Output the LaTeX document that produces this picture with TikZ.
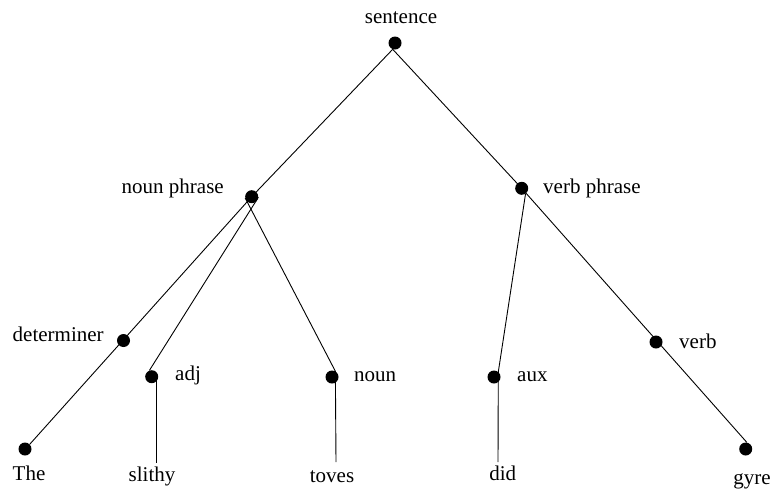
\documentclass[tikz,border=0pt]{standalone}
\usepackage{fontspec}
\setmainfont{Liberation Serif}
\begin{document}
\begin{tikzpicture}[x=1pt,y=-1pt,
  dot/.style={circle,fill=black,inner sep=0pt,minimum size=13pt},
  lbl/.style={inner sep=0pt,font=\fontsize{21}{25}\selectfont},
  edge/.style={line width=0.9pt}]
\useasboundingbox (0,0) rectangle (773,491);
% dots
\node[dot] (s) at (395,43) {};
\node[dot] (np) at (251.7,196.7) {};
\node[dot] (vp) at (521.7,188.3) {};
\node[dot] (det) at (123.5,340.5) {};
\node[dot] (adj) at (151.7,376.7) {};
\node[dot] (noun) at (332,377) {};
\node[dot] (aux) at (494,377) {};
\node[dot] (verb) at (656,342) {};
\node[dot] (the) at (25,449) {};
\node[dot] (gyre) at (745.7,449) {};
% labels
\node[lbl,anchor=base] (ls) at (401,23) {sentence};
\node[lbl,anchor=base east] (lnp) at (224,193.5) {noun phrase};
\node[lbl,anchor=base west] (lvp) at (543,193.5) {verb phrase};
\node[lbl,anchor=base west] (ldet) at (12.5,341.5) {determiner};
\node[lbl,anchor=base west] (ladj) at (175,380) {adj};
\node[lbl,anchor=base west] (lnoun) at (354,381.5) {noun};
\node[lbl,anchor=base west] (laux) at (517,381.5) {aux};
\node[lbl,anchor=base west] (lverb) at (679,348) {verb};
\node[lbl,anchor=base] (lthe) at (29,480) {The};
\node[lbl,anchor=base] (lslithy) at (152,481.5) {slithy};
\node[lbl,anchor=base] (ltoves) at (332,482.5) {toves};
\node[lbl,anchor=base] (ldid) at (502.7,480) {did};
\node[lbl,anchor=base] (lgyre) at (752,484) {gyre};
% free ends of the vertical stems
\coordinate (adjend) at (156.7,463);
\coordinate (nounend) at (336,462);
\coordinate (auxend) at (498,462);
% edges
\draw[edge] (s.250) -- (np.center);
\draw[edge] (s.250) -- (vp.center);
\draw[edge] (np.center) -- (the.45);
\draw[edge] (np.-5) -- (adj.110);
\draw[edge] (np.190) -- (noun.60);
\draw[edge] (vp.center) -- (gyre.80);
\draw[edge] (vp.-55) -- (aux.50);
\draw[edge] ([xshift=5pt]adj.center) -- (adjend);
\draw[edge] (noun.60) -- (nounend);
\draw[edge] (aux.50) -- (auxend);
\end{tikzpicture}
\end{document}
